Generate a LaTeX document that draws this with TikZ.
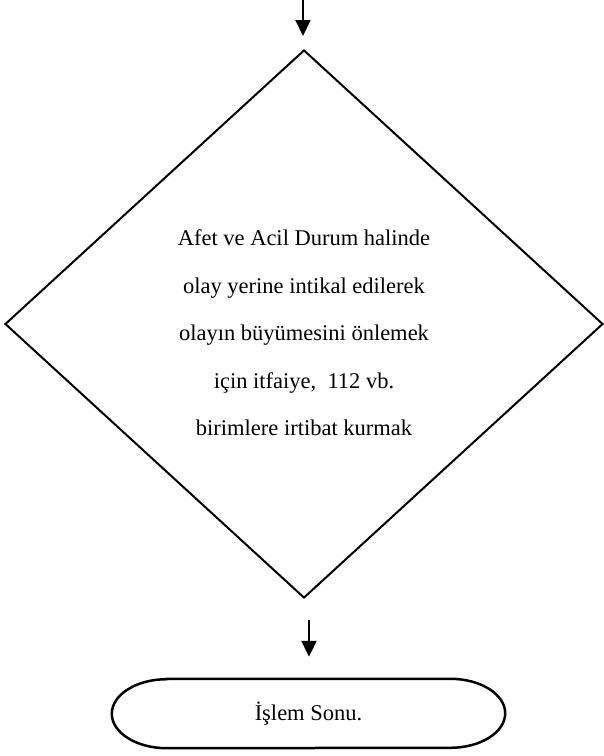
\documentclass[tikz,border=0pt]{standalone}
\usepackage{fontspec}
\setmainfont{Liberation Serif}
\usetikzlibrary{shapes.geometric,arrows.meta}
\begin{document}
\begin{tikzpicture}[x=1pt,y=-1pt,
  arr/.style={line width=2pt,-{Triangle[width=15pt,length=16pt]}},
  dec/.style={diamond,draw,line width=2pt,minimum width=598pt,minimum height=548pt,inner sep=0pt},
  dectext/.style={align=center,inner sep=0pt,font=\fontsize{22.5}{47.5}\selectfont},
  endbox/.style={minimum width=393pt,minimum height=69pt,inner sep=0pt,font=\fontsize{22.5}{27}\selectfont}]
\useasboundingbox (0,0) rectangle (604,756);
\node[dec] (d) at (304,324) {};
\node[dectext] (t) at (304,333) {Afet ve Acil Durum halinde\\olay yerine intikal edilerek\\olayın büyümesini önlemek\\için itfaiye,~~112 vb.\\birimlere irtibat kurmak};
\node[endbox] (e) at (308.5,713.5) {İşlem Sonu.};
\draw[line width=2.5pt] ([xshift=55pt]e.north west) -- ([xshift=-55pt]e.north east)
  arc[start angle=90,end angle=-90,x radius=55pt,y radius=34.5pt]
  -- ([xshift=55pt]e.south west)
  arc[start angle=270,end angle=90,x radius=55pt,y radius=34.5pt] -- cycle;
\coordinate (top) at (303,0);
\draw[arr,shorten >=13pt] (top) -- (top |- d.north);
\coordinate (b1) at (309,620);
\draw[arr,shorten >=22pt] (b1) -- (b1 |- e.north);
\end{tikzpicture}
\end{document}
